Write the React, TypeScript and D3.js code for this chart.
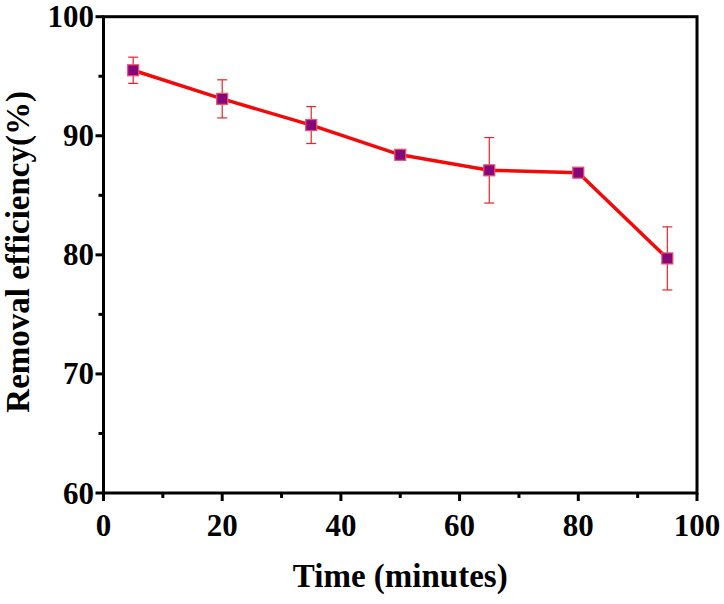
import * as d3 from "d3";
import React, { useEffect, useRef } from "react";

const time = [5, 20, 35, 50, 65, 80, 95];
const efficiency = [95.5, 93.1, 90.9, 88.4, 87.1, 86.9, 79.7];
const errors = [1.1, 1.6, 1.55, 0.4, 2.75, 0.15, 2.65];
const xTicks = [0, 20, 40, 60, 80, 100];
const xMinor = [10, 30, 50, 70, 90];
const yTicks = [60, 70, 80, 90, 100];
const yMinor = [65, 75, 85, 95];

const CONFIG = {
  width: 724,
  height: 604,
  left: 103.5,
  right: 697,
  top: 16.7,
  bottom: 493,
  font: "'Liberation Serif', 'Times New Roman', serif",
};

const App: React.FC = () => {
  const svgRef = useRef<SVGSVGElement>(null);

  useEffect(() => {
    const svg = d3.select(svgRef.current);
    svg.selectAll("*").remove();

    const x = d3.scaleLinear().domain([0, 100]).range([CONFIG.left, CONFIG.right]);
    const y = d3.scaleLinear().domain([60, 100]).range([CONFIG.bottom, CONFIG.top]);

    svg.append("rect").attr("width", CONFIG.width).attr("height", CONFIG.height).attr("fill", "white");

    // axes frame
    svg
      .append("rect")
      .attr("x", CONFIG.left)
      .attr("y", CONFIG.top)
      .attr("width", CONFIG.right - CONFIG.left)
      .attr("height", CONFIG.bottom - CONFIG.top)
      .attr("fill", "none")
      .attr("stroke", "black")
      .attr("stroke-width", 3);

    // ticks, outward on bottom and left only
    const tickG = svg.append("g").attr("stroke", "black").attr("stroke-width", 3);
    xTicks.forEach((t) => {
      tickG.append("line").attr("x1", x(t)).attr("x2", x(t)).attr("y1", CONFIG.bottom).attr("y2", CONFIG.bottom + 8);
    });
    xMinor.forEach((t) => {
      tickG.append("line").attr("x1", x(t)).attr("x2", x(t)).attr("y1", CONFIG.bottom).attr("y2", CONFIG.bottom + 5);
    });
    yTicks.forEach((t) => {
      tickG.append("line").attr("x1", CONFIG.left - 8).attr("x2", CONFIG.left).attr("y1", y(t)).attr("y2", y(t));
    });
    yMinor.forEach((t) => {
      tickG.append("line").attr("x1", CONFIG.left - 5).attr("x2", CONFIG.left).attr("y1", y(t)).attr("y2", y(t));
    });

    const labelG = svg
      .append("g")
      .attr("font-family", CONFIG.font)
      .attr("font-weight", "bold")
      .attr("font-size", 31)
      .attr("fill", "black");
    xTicks.forEach((t) => {
      labelG.append("text").attr("x", x(t)).attr("y", 536).attr("text-anchor", "middle").text(t);
    });
    yTicks.forEach((t) => {
      labelG
        .append("text")
        .attr("x", 94)
        .attr("y", y(t))
        .attr("dy", "0.34em")
        .attr("text-anchor", "end")
        .text(t);
    });

    // axis titles
    svg
      .append("text")
      .attr("x", (CONFIG.left + CONFIG.right) / 2)
      .attr("y", 587)
      .attr("text-anchor", "middle")
      .attr("font-family", CONFIG.font)
      .attr("font-weight", "bold")
      .attr("font-size", 33)
      .text("Time (minutes)");
    svg
      .append("text")
      .attr("transform", `translate(29, ${(CONFIG.top + CONFIG.bottom) / 2 - 3}) rotate(-90)`)
      .attr("text-anchor", "middle")
      .attr("font-family", CONFIG.font)
      .attr("font-weight", "bold")
      .attr("font-size", 33)
      .text("Removal efficiency(%)");

    // error bars
    const errG = svg.append("g").attr("stroke", "#e8242a").attr("stroke-width", 1.2);
    time.forEach((t, i) => {
      const hi = y(efficiency[i] + errors[i]);
      const lo = y(efficiency[i] - errors[i]);
      errG.append("line").attr("x1", x(t)).attr("x2", x(t)).attr("y1", hi).attr("y2", lo);
      errG.append("line").attr("x1", x(t) - 5).attr("x2", x(t) + 5).attr("y1", hi).attr("y2", hi);
      errG.append("line").attr("x1", x(t) - 5).attr("x2", x(t) + 5).attr("y1", lo).attr("y2", lo);
    });

    // line
    const line = d3
      .line<number>()
      .x((_, i) => x(time[i]))
      .y((d) => y(d));
    svg
      .append("path")
      .datum(efficiency)
      .attr("d", line)
      .attr("fill", "none")
      .attr("stroke", "#f20a0a")
      .attr("stroke-width", 3.5)
      .attr("stroke-linejoin", "round");

    // markers
    svg
      .append("g")
      .selectAll("rect")
      .data(efficiency)
      .enter()
      .append("rect")
      .attr("x", (_: any, i: number) => x(time[i]) - 5.5)
      .attr("y", (d: number) => y(d) - 5.5)
      .attr("width", 11)
      .attr("height", 11)
      .attr("fill", "#85087a")
      .attr("stroke", "#f0506a")
      .attr("stroke-width", 1.2);
  }, []);

  return (
    <svg
      ref={svgRef}
      width={CONFIG.width}
      height={CONFIG.height}
      style={{ position: "absolute", left: 0, top: 0 }}
    />
  );
};

export default App;
